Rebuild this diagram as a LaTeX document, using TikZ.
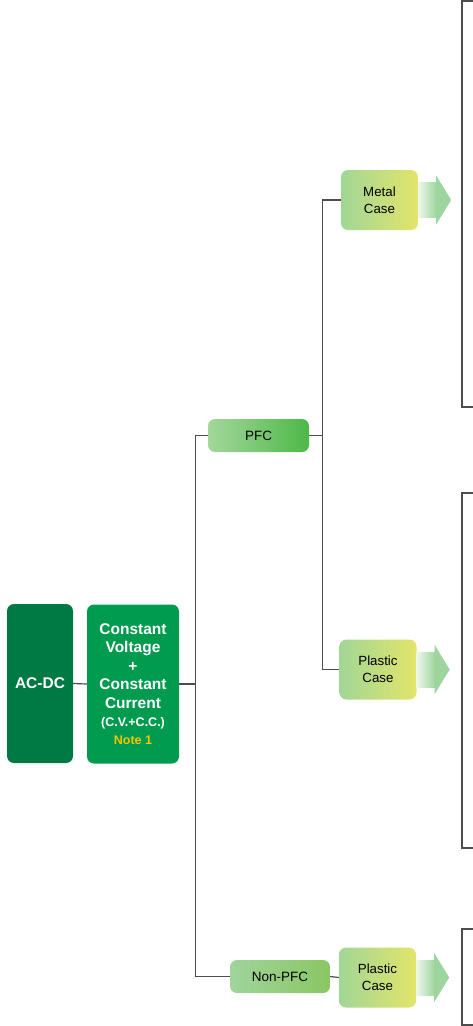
\documentclass[tikz,border=0pt]{standalone}
\usepackage{fontspec}
\setmainfont{Liberation Sans}
\usetikzlibrary{calc}
\definecolor{acdcC}{HTML}{007A45}
\definecolor{cvC}{HTML}{009B4E}
\definecolor{noteC}{HTML}{F5C400}
\definecolor{linegray}{HTML}{4D4D4D}
\definecolor{pfcL}{HTML}{A3D79B}
\definecolor{pfcR}{HTML}{4DB848}
\definecolor{npfcL}{HTML}{A0D49C}
\definecolor{npfcR}{HTML}{8AC763}
\definecolor{caseL}{HTML}{A2D696}
\definecolor{caseR}{HTML}{E2E56A}
\definecolor{arrL}{HTML}{EEF7EC}
\definecolor{arrR}{HTML}{9ED59E}
\begin{document}
\begin{tikzpicture}[x=1pt,y=-1pt,
  conn/.style={draw=linegray, line width=1.2pt},
  bigbox/.style={rounded corners=7pt, minimum height=159pt, inner sep=0pt, text=white,
    font=\bfseries\fontsize{15.5}{19}\selectfont, align=center},
  pill/.style={rounded corners=7pt, minimum height=33pt, minimum width=101pt, inner sep=0pt,
    font=\fontsize{13.5}{17}\selectfont},
  casebox/.style={rounded corners=7pt, minimum height=60pt, minimum width=77pt, inner sep=0pt,
    left color=caseL, right color=caseR, align=center, font=\fontsize{13.3}{17}\selectfont},
  bracket/.style={draw=linegray, line width=1.3pt},
]
\useasboundingbox (0,0) rectangle (473,1026);

% main boxes
\node[bigbox, fill=acdcC, minimum width=66pt] (acdc) at (40,683.5) {AC-DC};
\node[bigbox, fill=cvC, minimum width=92pt] (cv) at (133,684)
  {Constant\\[-0.5pt]Voltage\\[-0.5pt]+\\[-0.5pt]Constant\\[-0.5pt]Current\\[-1pt]
   {\fontsize{12.5}{15}\selectfont(C.V.+C.C.)}\\[-1pt]
   {\fontsize{12.5}{15}\selectfont\color{noteC}Note 1}};

\node[pill, left color=pfcL, right color=pfcR] (pfc) at (258.5,435.5) {PFC};
\node[pill, left color=npfcL, right color=npfcR, minimum width=100pt] (npfc) at (280,976.5) {Non-PFC};

\node[casebox] (metal) at (379.5,200) {Metal\\Case};
\node[casebox] (plastic1) at (378,669.5) {Plastic\\Case};
\node[casebox] (plastic2) at (377.5,977.5) {Plastic\\Case};

% connectors
\draw[conn] (acdc.east) -- (cv.west);
\draw[conn] (cv.east) -- ++(16,0) coordinate (j1);
\draw[conn] (j1) |- (pfc.west);
\draw[conn] (j1) |- (npfc.west);
\draw[conn] (pfc.east) -- ++(13,0) coordinate (j2);
\draw[conn] (j2) |- (metal.west);
\draw[conn] (j2) |- (plastic1.west);
\draw[conn] (npfc.east) -- (plastic2.west);

% arrows
\foreach \b in {metal,plastic1,plastic2}{
  \begin{scope}[shift={(\b.east)}]
    \shade[left color=arrL, right color=arrR] (0,-17.5) rectangle (18.5,17.5);
    \fill[arrR] (18,-24.5) -- (33,0) -- (18,24.5) -- cycle;
  \end{scope}
}

% brackets
\draw[bracket] (473,1) -- (462,1) -- (462,407) -- (473,407);
\draw[bracket] (473,493) -- (462,493) -- (462,848) -- (473,848);
\draw[bracket] (473,929) -- (462,929) -- (462,1025) -- (473,1025);
\end{tikzpicture}
\end{document}
